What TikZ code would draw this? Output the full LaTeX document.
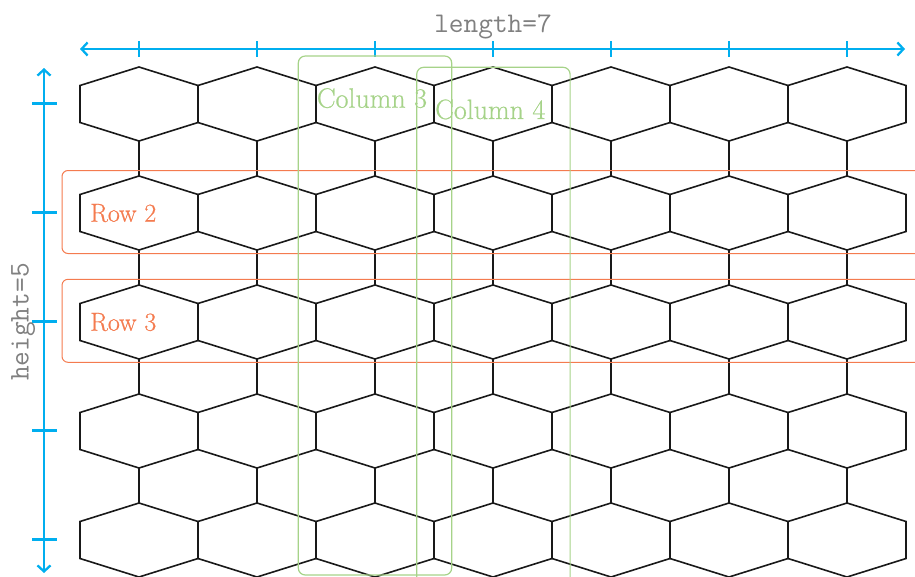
\documentclass[tikz,border=0pt]{standalone}
\usepackage{fontspec}
\newfontfamily\lblfont{Latin Modern Roman}[FakeBold=0.6]
\newfontfamily\dimfont{Latin Modern Mono}
\usetikzlibrary{arrows.meta,calc}
\definecolor{dimblue}{HTML}{00AEEF}
\definecolor{roworange}{HTML}{F47B4F}
\definecolor{colgreen}{HTML}{A6D389}
\definecolor{labelgray}{HTML}{808080}
\begin{document}
\begin{tikzpicture}[x=1pt,y=-1pt,
  hexline/.style={line width=1.6pt, draw=black!90, line join=miter},
  dimline/.style={line width=2.3pt, draw=dimblue},
  dimtips/.style={{Straight Barb[length=6pt,width=13pt]}-{Straight Barb[length=6pt,width=13pt]}},
  tickmark/.style={line width=2.3pt, draw=dimblue},
  rowbox/.style={draw=roworange, line width=1pt, rounded corners=6pt, anchor=north west, inner sep=0pt, outer sep=0pt},
  colbox/.style={draw=colgreen, line width=1.2pt, rounded corners=7pt, anchor=north west, inner sep=0pt, outer sep=0pt},
  rowlabel/.style={text=roworange, font=\lblfont\fontsize{26}{30}\selectfont, inner sep=0pt, anchor=base west},
  collabel/.style={text=colgreen, font=\lblfont\fontsize{28}{30}\selectfont, inner sep=0pt, anchor=base west},
  dimlabel/.style={text=labelgray, font=\dimfont\fontsize{28.5}{32}\selectfont, inner sep=0pt, anchor=base},
]
\useasboundingbox (0,0) rectangle (915,576);

% hexagons
\foreach \c in {1,...,7}{
  \foreach \r in {1,...,5}{
    \pgfmathsetmacro\cx{139+118*(\c-1)}
    \pgfmathsetmacro\cy{103.5+109*(\r-1)}
    \coordinate (h-\c-\r) at (\cx,\cy);
    \draw[hexline] ($(h-\c-\r)+(0,-36.5)$) -- ++(59,18.5) -- ++(0,37) -- ++(-59,18.5) -- ++(-59,-18.5) -- ++(0,-37) -- cycle;
  }
}
% connectors between rows
\foreach \c in {1,...,7}{
  \foreach \r [evaluate=\r as \n using int(\r+1)] in {1,...,4}{
    \draw[hexline] ($(h-\c-\r)+(0,36.5)$) -- ($(h-\c-\n)+(0,-36.5)$);
  }
}

% dimension arrows
\coordinate (xl) at (80,49);
\coordinate (xr) at (905,49);
\draw[dimline, dimtips] (xl) -- (xr);
\foreach \c in {1,...,7}{
  \pgfmathsetmacro\cx{139+118*(\c-1)}
  \coordinate (tx-\c) at (\cx,49);
  \draw[tickmark] ($(tx-\c)+(0,-8)$) -- ($(tx-\c)+(0,8)$);
}
\coordinate (yt) at (44,68);
\coordinate (yb) at (44,573);
\draw[dimline, dimtips] (yt) -- (yb);
\foreach \r in {1,...,5}{
  \pgfmathsetmacro\cy{103.5+109*(\r-1)}
  \coordinate (ty-\r) at (44,\cy);
  \draw[tickmark] ($(ty-\r)+(-12,0)$) -- ($(ty-\r)+(13,0)$);
}
\node[dimlabel] (lenlbl) at (493,32.7) {length=7};
\node[dimlabel, rotate=90] (heilbl) at (28.5,322) {height=5};

% row boxes
\node[rowbox, minimum width=880pt, minimum height=83pt] (row2) at (62,170.5) {};
\node[rowbox, minimum width=880pt, minimum height=83pt] (row3) at (62,279.3) {};
\node[rowlabel] (row2lbl) at (90,221.7) {Row 2};
\node[rowlabel] (row3lbl) at (90,330.7) {Row 3};

% column boxes
\node[colbox, minimum width=153.4pt, minimum height=519pt] (col3) at (298.3,56) {};
\node[colbox, minimum width=153.4pt, minimum height=530pt] (col4) at (416.7,67.3) {};
\node[collabel] (col3lbl) at (316.7,107.7) {Column 3};
\node[collabel] (col4lbl) at (435,119) {Column 4};
\end{tikzpicture}
\end{document}
